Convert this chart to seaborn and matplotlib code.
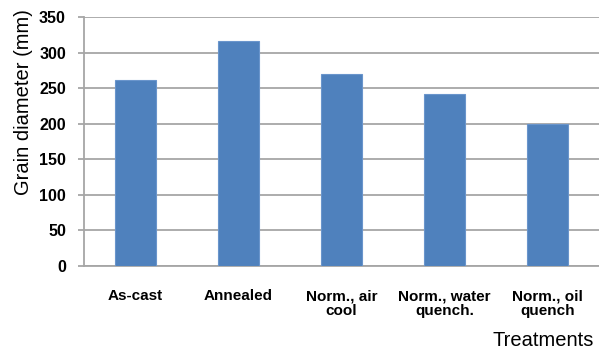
import matplotlib
matplotlib.use("Agg")
import matplotlib.pyplot as plt
import seaborn as sns
import pandas as pd

treatments = ["As-cast", "Annealed", "Norm., air\ncool", "Norm., water\nquench.", "Norm., oil\nquench"]
grain_diameter = [261, 316, 270, 242, 199]
y_ticks = [0, 50, 100, 150, 200, 250, 300, 350]

sns.set_theme(style="white")
plt.rcParams["font.family"] = ["Liberation Sans", "DejaVu Sans"]

df = pd.DataFrame({"Treatment": treatments, "Grain diameter": grain_diameter})

fig = plt.figure(figsize=(5.99, 3.51), dpi=100)
ax = fig.add_axes([0.1402, 0.243, 0.8598, 0.7086])

sns.barplot(data=df, x="Treatment", y="Grain diameter", color="#4F81BD",
            width=0.4, saturation=1, edgecolor="#6A95CC", linewidth=0.8,
            ax=ax, zorder=3)

ax.set_ylim(0, 350)
ax.set_yticks(y_ticks)
ax.set_xlim(-0.5, len(treatments) - 0.5)
ax.yaxis.grid(True, color="#A6A6A6", linewidth=1.3, zorder=0)
ax.set_axisbelow(True)

for side in ["top", "right"]:
    ax.spines[side].set_visible(False)
ax.spines["left"].set_color("#A6A6A6")
ax.spines["left"].set_linewidth(1.3)
ax.spines["bottom"].set_color("#A6A6A6")
ax.spines["bottom"].set_linewidth(1.3)

ax.tick_params(axis="y", left=True, length=4, width=1.3, color="#A6A6A6",
               pad=9, labelsize=11.5)
ax.tick_params(axis="x", bottom=False, pad=11, labelsize=11)
for lbl in ax.get_yticklabels() + ax.get_xticklabels():
    lbl.set_fontweight("bold")
    lbl.set_color("black")
for lbl in ax.get_xticklabels():
    lbl.set_linespacing(1.05)

ax.set_xlabel("")
ax.set_ylabel("")
fig.text(0.040, 0.709, "Grain diameter (mm)", rotation=90, ha="center",
         va="center", fontsize=14.5, color="black")
fig.text(0.992, 0.003, "Treatments", ha="right", va="bottom",
         fontsize=14.5, color="black")

fig.savefig("out.png", dpi=100)
